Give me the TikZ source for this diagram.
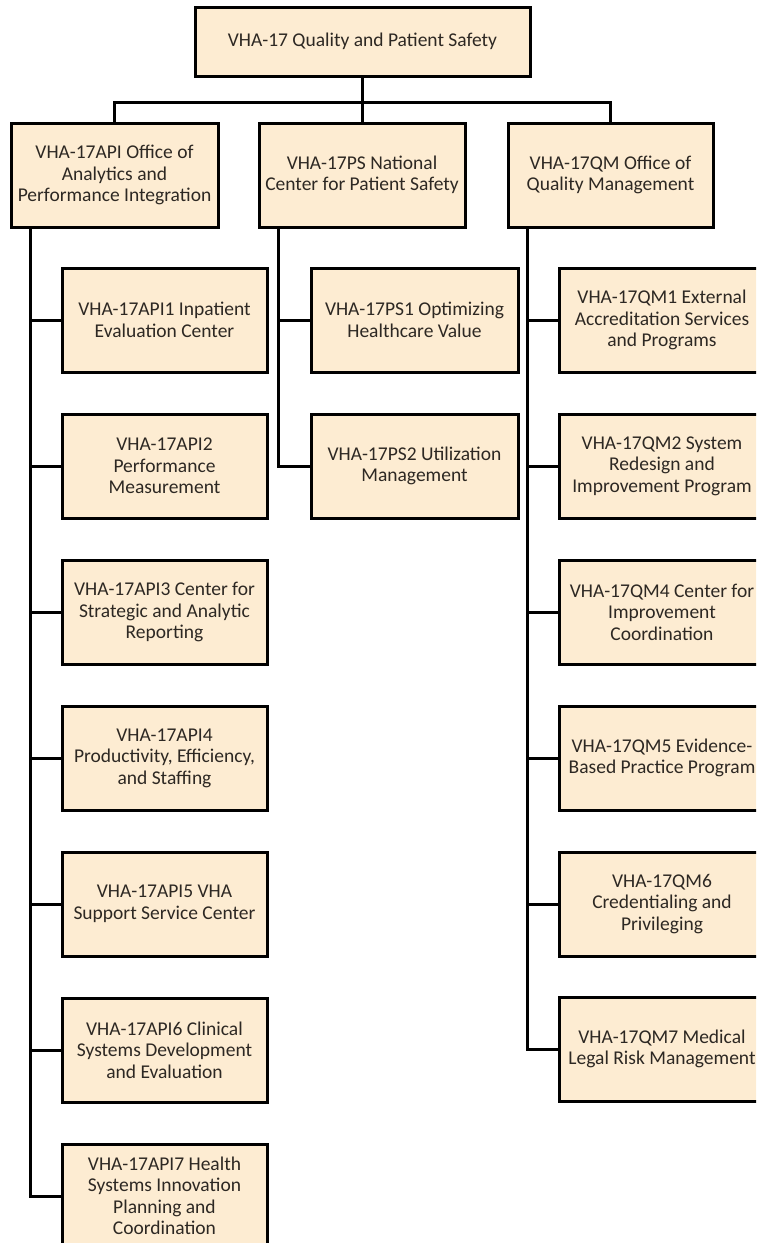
\documentclass[tikz,border=0pt]{standalone}
\usepackage{fontspec}
\setmainfont{Carlito}
\definecolor{boxfill}{RGB}{253,236,210}
\definecolor{txt}{RGB}{45,40,35}
\begin{document}
\begin{tikzpicture}[x=1pt,y=-1pt,
  orgbox/.style={draw=black,fill=boxfill,line width=3pt,inner sep=0pt,
    minimum width=206pt,minimum height=104pt,align=center,text=txt,
    font=\fontsize{19.5}{21.5}\selectfont},
  link/.style={draw=black,line width=3pt}]
\useasboundingbox (0,0) rectangle (756,1243);
\clip (0,0) rectangle (756,1243);
\fill[white] (0,0) rectangle (756,1243);
% top
\node[orgbox,minimum width=335pt,minimum height=69pt] (top) at (362.5,41.5) {VHA-17 Quality and Patient Safety};
\node[orgbox,minimum width=207pt] (api) at (114.5,175) {VHA-17API Office of\\Analytics and\\Performance Integration};
\node[orgbox] (ps) at (362,175) {VHA-17PS National\\Center for Patient Safety};
\node[orgbox,minimum width=205pt] (qm) at (610.5,175) {VHA-17QM Office of\\Quality Management};
\coordinate (bus) at (0,102);
% API column
\node[orgbox,minimum width=205pt] (api1) at (164.5,320) {VHA-17API1 Inpatient\\Evaluation Center};
\node[orgbox,minimum width=205pt] (api2) at (164.5,466) {VHA-17API2\\Performance\\Measurement};
\node[orgbox,minimum width=205pt] (api3) at (164.5,612) {VHA-17API3 Center for\\Strategic and Analytic\\Reporting};
\node[orgbox,minimum width=205pt] (api4) at (164.5,758) {VHA-17API4\\Productivity, Efficiency,\\and Staffing};
\node[orgbox,minimum width=205pt] (api5) at (164.5,904) {VHA-17API5 VHA\\Support Service Center};
\node[orgbox,minimum width=205pt] (api6) at (164.5,1050) {VHA-17API6 Clinical\\Systems Development\\and Evaluation};
\node[orgbox,minimum width=205pt] (api7) at (164.5,1196) {VHA-17API7 Health\\Systems Innovation\\Planning and\\Coordination};
% PS column
\node[orgbox,minimum width=207pt] (ps1) at (414.5,320) {VHA-17PS1 Optimizing\\Healthcare Value};
\node[orgbox,minimum width=207pt] (ps2) at (414.5,466) {VHA-17PS2 Utilization\\Management};
% QM column
\node[orgbox] (qm1) at (662,320) {VHA-17QM1 External\\Accreditation Services\\and Programs};
\node[orgbox] (qm2) at (662,466) {VHA-17QM2 System\\Redesign and\\Improvement Program};
\node[orgbox] (qm4) at (662,612) {VHA-17QM4 Center for\\Improvement\\Coordination};
\node[orgbox] (qm5) at (662,758) {VHA-17QM5 Evidence-\\Based Practice Program};
\node[orgbox] (qm6) at (662,904) {VHA-17QM6\\Credentialing and\\Privileging};
\node[orgbox] (qm7) at (662,1049) {VHA-17QM7 Medical\\Legal Risk Management};
% top connectors
\draw[link] (top.south) -- (top.south |- bus);
\draw[link] (api.north) -- (api.north |- bus) -- (qm.north |- bus) -- (qm.north);
\draw[link] (ps.north) -- (ps.north |- bus);
% column connectors
\foreach \c in {api1,api2,api3,api4,api5,api6,api7}
  \draw[link] ([xshift=21pt]api.south west) |- (\c.west);
\foreach \c in {ps1,ps2}
  \draw[link] ([xshift=21pt]ps.south west) |- (\c.west);
\foreach \c in {qm1,qm2,qm4,qm5,qm6,qm7}
  \draw[link] ([xshift=21pt]qm.south west) |- (\c.west);
\end{tikzpicture}
\end{document}
